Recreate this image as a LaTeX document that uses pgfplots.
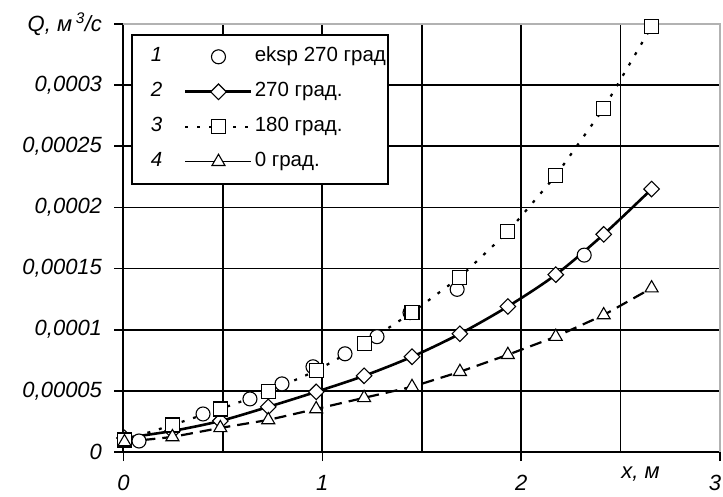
\documentclass[border=0pt]{standalone}
\usepackage{fontspec}
\setmainfont{Liberation Sans}
\usepackage{pgfplots}
\pgfplotsset{compat=1.18}
\newcommand\xlab{x, м}
\newcommand\qlab{Q, м\,\textsuperscript{3}/с}
\begin{document}
\begin{tikzpicture}
\begin{axis}[
  name=ax,
  scale only axis, width=596.5bp, height=428bp,
  xmin=0, xmax=3, ymin=0, ymax=0.00035,
  clip=false,
  axis lines*=left,
  axis line style={-, black, line width=2bp},
  tick pos=left, tick align=outside,
  major tick length=9bp,
  tick style={black, line width=1.6bp},
  xtick={0,1,2,3}, xticklabels={0,1,2,\hspace*{-10bp}3},
  minor xtick={0.5,1.5,2.5}, minor tick length=0pt,
  extra x ticks={2.6}, extra x tick labels={\xlab},
  extra x tick style={major tick length=0pt, grid=none},
  ytick={0,0.00005,0.0001,0.00015,0.0002,0.00025,0.0003,0.00035},
  yticklabels={0,{0,00005},{0,0001},{0,00015},{0,0002},{0,00025},{0,0003},\qlab},
  scaled y ticks=false, scaled x ticks=false,
  xmajorgrids, xminorgrids, ymajorgrids,
  major grid style={black, line width=1.8bp},
  minor grid style={black, line width=1.8bp},
  tick label style={font=\fontsize{22bp}{25bp}\selectfont\itshape},
  xticklabel style={yshift=-11bp},
  yticklabel style={xshift=-9bp},
  legend columns=2,
  legend cell align=left,
  legend image code/.code={\draw[mark repeat=2,mark phase=2,#1] plot coordinates {(0bp,0bp) (33bp,0bp) (66bp,0bp)};},
  legend style={at={(0,1)}, anchor=north west, xshift=7.5bp, yshift=-10bp,
    draw=black, line width=1.6bp, fill=white,
    font=\fontsize{20.5bp}{23bp}\selectfont,
    inner xsep=0pt, inner ysep=10bp, column sep=0pt, row sep=11bp,
    nodes={text height=15bp, text depth=5bp}},
]
\addlegendimage{empty legend}
\addlegendentry{\hspace*{17bp}\itshape 1\hspace*{20bp}}
\addplot[only marks, mark=*, mark size=7bp, mark options={fill=white, draw=black, line width=1.1bp}]
coordinates {(0.078,0.0000090) (0.40,0.0000311) (0.636,0.0000434) (0.797,0.0000557) (0.953,0.0000697) (1.114,0.0000803) (1.275,0.0000943) (1.441,0.000114) (1.678,0.000133) (2.317,0.000161)};
\addlegendentry{eksp 270 град}

\addlegendimage{empty legend}
\addlegendentry{\hspace*{17bp}\itshape 2\hspace*{20bp}}
\addplot[black, line width=2.6bp, smooth, mark=square*, mark size=5.5bp, mark options={rotate=45, fill=white, draw=black, line width=1.1bp, solid}]
coordinates {(0.005,0.0000115) (0.246,0.0000172) (0.487,0.0000254) (0.728,0.0000369) (0.969,0.0000492) (1.21,0.0000623) (1.451,0.0000779) (1.692,0.0000967) (1.933,0.000119) (2.174,0.000145) (2.415,0.000178) (2.656,0.000215)};
\addlegendentry{270 град.}

\addlegendimage{empty legend}
\addlegendentry{\hspace*{17bp}\itshape 3\hspace*{20bp}}
\addplot[black, line width=2.2bp, dash pattern=on 3bp off 9bp, mark=square*, mark size=7bp, mark options={fill=white, draw=black, line width=1.1bp, solid}]
coordinates {(0.005,0.0000098) (0.246,0.0000221) (0.487,0.0000352) (0.728,0.0000492) (0.969,0.0000664) (1.21,0.0000885) (1.451,0.000114) (1.692,0.000143) (1.933,0.000180) (2.174,0.000226) (2.415,0.000281) (2.656,0.000348)};
\addlegendentry{180 град.}

\addlegendimage{empty legend}
\addlegendentry{\hspace*{17bp}\itshape 4\hspace*{20bp}}
\addplot[black, line width=2.2bp, dash pattern=on 12bp off 7bp, mark=triangle*, mark size=7.5bp, mark options={fill=white, draw=black, line width=1.1bp, solid}, legend image post style={solid, line width=1.1bp}]
coordinates {(0.005,0.0000082) (0.246,0.0000123) (0.487,0.0000197) (0.728,0.0000262) (0.969,0.0000352) (1.21,0.0000443) (1.451,0.0000533) (1.692,0.0000656) (1.933,0.0000795) (2.174,0.0000943) (2.415,0.000112) (2.656,0.000134)};
\addlegendentry{0 град.}

\draw[gray!60, line width=2bp] (rel axis cs:0,1) -- (rel axis cs:1,1) -- (rel axis cs:1,0);
\end{axis}
\pgfresetboundingbox
\path[use as bounding box] ([xshift=-123.5bp,yshift=-45bp]ax.south west) rectangle ([xshift=3bp,yshift=24bp]ax.north east);
\end{tikzpicture}
\end{document}
